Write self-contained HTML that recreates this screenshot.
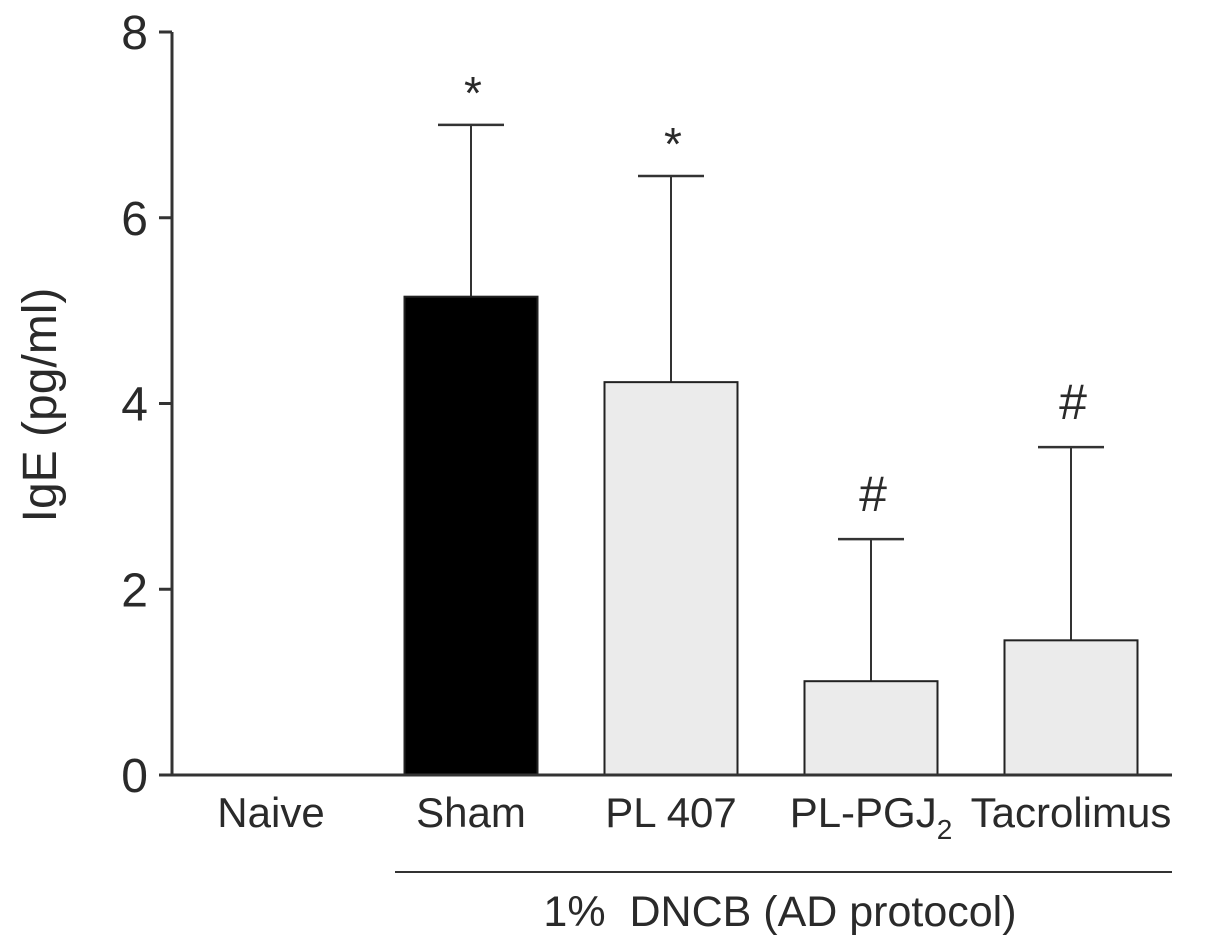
<!DOCTYPE html>
<html><head><meta charset="utf-8"><style>
html,body{margin:0;padding:0;background:#fff;width:1205px;height:948px;overflow:hidden}
svg text{font-family:"Liberation Sans",sans-serif;fill:#2a2a2a}
</style></head><body>
<svg id="chart" width="1205" height="948" xmlns="http://www.w3.org/2000/svg"></svg>
<script>
const categories = ["Naive","Sham","PL 407","PL-PGJ2","Tacrolimus"];
const means = [0, 5.15, 4.23, 1.01, 1.45];
const errors = [0, 7.0, 6.45, 2.54, 3.53];
const marks = ["", "*", "*", "#", "#"];
const yTicks = [0, 2, 4, 6, 8];

const svg = document.getElementById('chart');
const NS = "http://www.w3.org/2000/svg";
const x0 = 172, x1 = 1172, y0 = 775, yTop = 32, yMax = 8;
const band = (x1 - x0) / categories.length;
const barW = 133;
function yScale(v){ return y0 - (y0 - yTop) * v / yMax; }
function xCenter(i){ return x0 + band * (i + 0.5) - 1; }
function mk(tag, attrs){ const e = document.createElementNS(NS, tag); for (const k in attrs) e.setAttribute(k, attrs[k]); svg.appendChild(e); return e; }

categories.forEach((c, i) => {
  if (means[i] > 0) {
    const cx = xCenter(i);
    const top = yScale(means[i]);
    const et = yScale(errors[i]);
    const el = mk('line', {x1: cx, x2: cx, y1: top, y2: et, stroke: '#333', 'stroke-width': 2});
    
    
    const cap = mk('line', {x1: cx - 33, x2: cx + 33, y1: et, y2: et, stroke: '#333', 'stroke-width': 2.5});
    
    
    const r = mk('rect', {x: cx - barW/2, y: top, width: barW, height: y0 - top, fill: i === 1 ? '#000' : '#ebebeb', stroke: '#222', 'stroke-width': 2});
    
    
    const isStar = marks[i] === '*';
    const m = mk('text', {x: cx + 2, y: et - (isStar ? 16 : 28), 'text-anchor': 'middle', 'font-size': isStar ? 46 : 50});
    m.textContent = marks[i];
    
    
  }
  const cx = xCenter(i);
  const t = mk('text', {x: cx, y: 827, 'text-anchor': 'middle', 'font-size': 42});
  if (c === 'PL-PGJ2') {
    t.innerHTML = 'PL-PGJ<tspan font-size="28" dy="12">2</tspan>';
  } else t.textContent = c;
  
  
});

const ya = mk('line', {x1: x0, x2: x0, y1: yTop, y2: y0 + 1, stroke: '#333', 'stroke-width': 3});


const xa = mk('line', {x1: x0 - 1, x2: x1, y1: y0, y2: y0, stroke: '#333', 'stroke-width': 3});


yTicks.forEach(v => {
  const y = yScale(v);
  const tk = mk('line', {x1: x0 - 13, x2: x0, y1: y, y2: y, stroke: '#333', 'stroke-width': 3});
  
  
  const tl = mk('text', {x: 148, y: y + 17, 'text-anchor': 'end', 'font-size': 48});
  tl.textContent = v;
  
  
});
const yt = mk('text', {x: 0, y: 0, 'text-anchor': 'middle', 'font-size': 48, transform: 'translate(56,405) rotate(-90)'});
yt.textContent = 'IgE (pg/ml)';



const br = mk('line', {x1: 395, x2: 1172, y1: 872, y2: 872, stroke: '#333', 'stroke-width': 2});


const gl = mk('text', {x: 780, y: 926, 'text-anchor': 'middle', 'font-size': 43, style: 'white-space:pre'});
gl.textContent = '1%  DNCB (AD protocol)';


</script>
</body></html>
